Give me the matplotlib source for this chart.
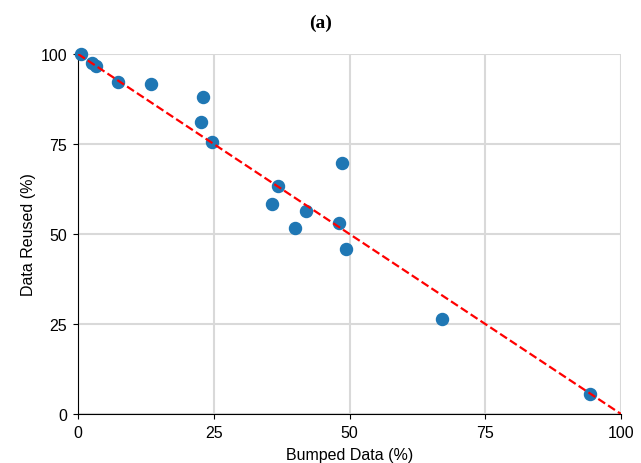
import numpy as np
import matplotlib
matplotlib.use("Agg")
import matplotlib.pyplot as plt

plt.rcParams["font.family"] = ["Liberation Sans", "DejaVu Sans"]

# bumped vs reused percentages
bumped = [0.5, 2.5, 3.3, 7.4, 13.4, 23.1, 22.6, 24.7, 36.9, 35.7,
          41.9, 40.0, 48.1, 48.7, 49.3, 67.0, 94.3]
reused = [100.0, 97.5, 96.8, 92.1, 91.8, 88.0, 81.1, 75.5, 63.2, 58.3,
          56.5, 51.7, 53.0, 69.8, 45.9, 26.4, 5.6]
ticks = [0, 25, 50, 75, 100]

fig = plt.figure(figsize=(6.41, 4.64), dpi=100)
ax = fig.add_axes([78 / 641, 1 - 415 / 464, (621 - 78) / 641, (415 - 55) / 464])

ax.grid(True, color="#d9d9d9", linewidth=1.5, zorder=0)
ax.set_axisbelow(True)
ax.scatter(bumped, reused, s=75, color="#1f77b4", zorder=3, clip_on=False)
ax.plot([0, 100], [100, 0], "--", color="red", linewidth=1.6, zorder=4)

ax.set_xlim(0, 100)
ax.set_ylim(0, 100)
ax.set_xticks(ticks)
ax.set_yticks(ticks)
ax.tick_params(labelsize=11.5, pad=4.5)
for side in ["top", "right"]:
    ax.spines[side].set_visible(False)

ax.set_xlabel("Bumped Data (%)", fontsize=11.5, labelpad=5)
ax.set_ylabel("Data Reused (%)", fontsize=11.5, labelpad=3)
fig.text(0.5, 1 - 23 / 464, "(a)", ha="center", va="center", fontsize=14,
         fontweight="bold", family="Liberation Serif")

fig.savefig("out.png", dpi=100)
